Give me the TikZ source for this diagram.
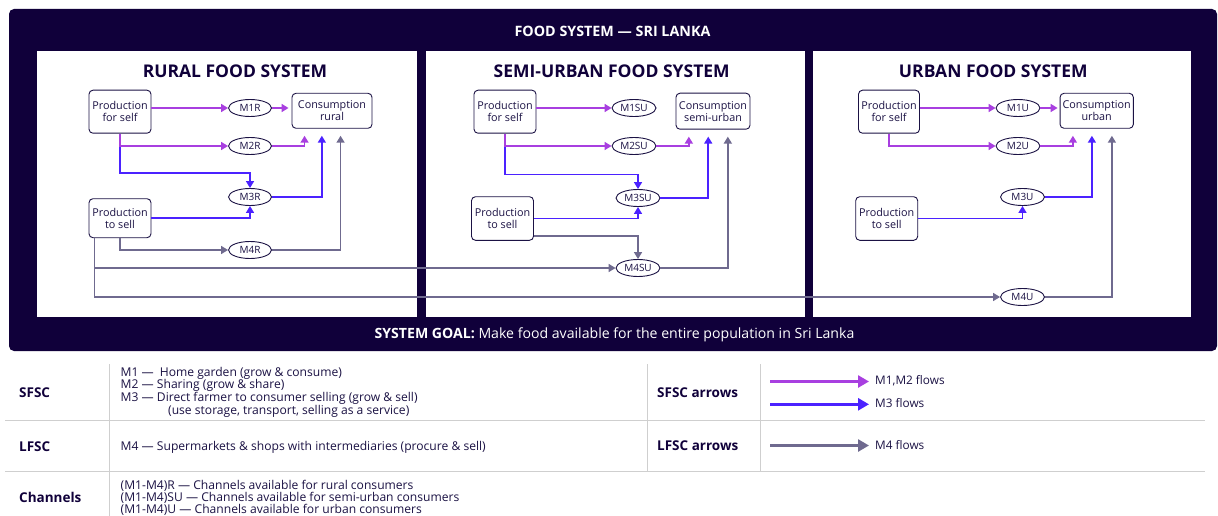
\documentclass[tikz,border=0pt]{standalone}
\usepackage{fontspec}
\setmainfont{Open Sans}
\usetikzlibrary{arrows.meta,shapes.geometric,calc}
\definecolor{navy}{HTML}{10003A}
\definecolor{ink}{HTML}{1B1244}
\definecolor{purp}{HTML}{A83FE0}
\definecolor{blu}{HTML}{4B22FF}
\definecolor{gry}{HTML}{6F6A8F}
\definecolor{rulec}{HTML}{CFCFCF}
\begin{document}
\begin{tikzpicture}[x=1pt,y=-1pt,
  box/.style={draw=ink, line width=0.9pt, rounded corners=4pt, fill=white, text=ink, align=center, inner sep=0pt, font=\fontsize{10.8}{11.8}\selectfont},
  chan/.style={ellipse, draw=ink, line width=0.9pt, fill=white, text=ink, inner sep=0pt, minimum height=17pt, minimum width=44pt, font=\fontsize{10}{11}\selectfont},
  flow/.style={line width=1.6pt, -{Triangle[length=7pt,width=8pt]}},
  ptitle/.style={text=navy, font=\bfseries\fontsize{17.5}{19}\selectfont},
  lab/.style={anchor=west, text=navy, inner sep=0pt, font=\bfseries\fontsize{13.5}{15}\selectfont},
  desc/.style={anchor=base west, text=ink, inner sep=0pt, font=\fontsize{12.1}{12}\selectfont},
  keyarrow/.style={line width=2.6pt, -{Triangle[length=11pt,width=12pt]}},
  keytext/.style={anchor=west, text=ink, inner sep=0pt, font=\fontsize{11.8}{12}\selectfont},
  rulel/.style={draw=rulec, line width=0.9pt}
]
\useasboundingbox (0,0) rectangle (1218,516);
\fill[white] (0,0) rectangle (1218,516);
% frame
\fill[navy, rounded corners=5pt] (9,9) rectangle (1217,351);
\fill[white] (37,51) rectangle (417,317);
\fill[white] (426,51) rectangle (805,317);
\fill[white] (813,51) rectangle (1191,317);
\node[text=white, font=\bfseries\fontsize{14.3}{16}\selectfont] (hdr) at (612.5,31.5) {FOOD SYSTEM — SRI LANKA};
\node[text=white, font=\fontsize{14.1}{16}\selectfont] (goal) at (614.5,335) {\textbf{SYSTEM GOAL:} Make food available for the entire population in Sri Lanka};

% titles
\node[ptitle] (tR) at (235,71) {RURAL FOOD SYSTEM};
\node[ptitle] (tS) at (611.7,71) {SEMI-URBAN FOOD SYSTEM};
\node[ptitle] (tU) at (993.3,71) {URBAN FOOD SYSTEM};

% ---------- rural ----------
\node[box, minimum width=62pt, minimum height=43pt] (psR) at (120,111.7) {Production\\for self};
\node[box, minimum width=62pt, minimum height=39pt] (tsR) at (120,218.2) {Production\\to sell};
\node[box, minimum width=80pt, minimum height=35pt] (cR) at (332,110.8) {Consumption\\rural};
\node[chan, minimum width=43pt] (M1R) at (250,108) {M1R};
\node[chan, minimum width=43pt] (M2R) at (250,146) {M2R};
\node[chan, minimum width=43pt] (M3R) at (250,197) {M3R};
\node[chan, minimum width=43pt] (M4R) at (250,250) {M4R};

% ---------- semi-urban ----------
\node[box, minimum width=62pt, minimum height=43pt] (psS) at (505,111.7) {Production\\for self};
\node[box, minimum width=62pt, minimum height=43.6pt] (tsS) at (502.5,218.5) {Production\\to sell};
\node[box, minimum width=74pt, minimum height=36pt] (cS) at (713,111.2) {Consumption\\semi-urban};
\node[chan] (M1SU) at (634,108) {M1SU};
\node[chan] (M2SU) at (634,146) {M2SU};
\node[chan] (M3SU) at (638,198) {M3SU};
\node[chan] (M4SU) at (638,268) {M4SU};

% ---------- urban ----------
\node[box, minimum width=61pt, minimum height=43pt] (psU) at (889,111.7) {Production\\for self};
\node[box, minimum width=62pt, minimum height=43.6pt] (tsU) at (886.7,218.5) {Production\\to sell};
\node[box, minimum width=73.3pt, minimum height=35pt] (cU) at (1096.7,110.8) {Consumption\\urban};
\node[chan] (M1U) at (1018,108) {M1U};
\node[chan] (M2U) at (1018,146) {M2U};
\node[chan] (M3U) at (1022.5,197) {M3U};
\node[chan] (M4U) at (1022.5,297) {M4U};

% ---------- rural flows ----------
\draw[flow, blu] (psR.south) |- ([yshift=15pt]M3R.north) -- (M3R.north);
\draw[flow, purp] (psR.south) |- (M2R.west);
\draw[flow, purp] (psR.east |- M1R.west) -- (M1R.west);
\draw[flow, purp, shorten >=3pt] (M1R.east) -- (cR.west |- M1R.east);
\draw[flow, purp, shorten >=7pt] (M2R.east) -| ($(cR.south west)+(13,0)$);
\draw[flow, blu] (tsR.east) -| (M3R.south);
\draw[flow, blu, shorten >=7pt] (M3R.east) -| ($(cR.south west)+(30.3,0)$);
\draw[flow, gry] (tsR.south) |- (M4R.west);
\draw[flow, gry, shorten >=7pt] (M4R.east) -| ($(cR.south west)+(49,0)$);
\draw[flow, gry] ([xshift=-25.7pt]tsR.south) |- (M4SU.west);
\draw[flow, gry] ([xshift=-25.7pt]tsR.south) |- (M4U.west);

% ---------- semi-urban flows ----------
\draw[flow, blu] (psS.south) |- ([yshift=14.5pt]M3SU.north) -- (M3SU.north);
\draw[flow, purp] (psS.south) |- (M2SU.west);
\draw[flow, purp] (psS.east |- M1SU.west) -- (M1SU.west);
\draw[flow, purp, shorten >=7pt] (M2SU.east) -| ($(cS.south west)+(13.3,0)$);
\draw[flow, blu] (tsS.east) -| (M3SU.south);
\draw[flow, blu, shorten >=7pt] (M3SU.east) -| ($(cS.south west)+(32.7,0)$);
\draw[flow, gry] ([yshift=-17.5pt]tsS.east) -| (M4SU.north);
\draw[flow, gry, shorten >=7pt] (M4SU.east) -| ($(cS.south west)+(52.3,0)$);

% ---------- urban flows ----------
\draw[flow, purp] (psU.east |- M1U.west) -- (M1U.west);
\draw[flow, purp, shorten >=2pt] (M1U.east) -- (cU.west |- M1U.east);
\draw[flow, purp] (psU.south) |- (M2U.west);
\draw[flow, purp, shorten >=7pt] (M2U.east) -| ($(cU.south west)+(13.3,0)$);
\draw[flow, blu] (tsU.east) -| (M3U.south);
\draw[flow, blu, shorten >=7pt] (M3U.east) -| ($(cU.south west)+(32.3,0)$);
\draw[flow, gry, shorten >=7pt] (M4U.east) -| ($(cU.south west)+(52.3,0)$);

% ---------- legend ----------
\draw[rulel] (5,420) -- (1205,420);
\draw[rulel] (5,471) -- (1205,471);
\draw[rulel] (109,364) -- (109,516);
\draw[rulel] (647,364) -- (647,471);
\draw[rulel] (760,364) -- (760,471);

\node[lab] (kS) at (19,393) {SFSC};
\node[lab] (kL) at (19,447) {LFSC};
\node[lab] (kC) at (19,497) {Channels};
\node[lab] (kSA) at (657,393) {SFSC arrows};
\node[lab] (kLA) at (657,446) {LFSC arrows};

\node[desc] (d1) at (120.5,376) {M1 —\hspace{0.5em}Home garden (grow \& consume)};
\node[desc] (d2) at (120.5,388.7) {M2 — Sharing (grow \& share)};
\node[desc] (d3) at (120.5,401.3) {M3 — Direct farmer to consumer selling (grow \& sell)};
\node[desc] (d4) at (120.5,414) {\hspace*{47.5pt}(use storage, transport, selling as a service)};
\node[desc] (d5) at (120.5,450) {M4 — Supermarkets \& shops with intermediaries (procure \& sell)};
\node[desc] (d6) at (120.5,489) {(M1-M4)R — Channels available for rural consumers};
\node[desc] (d7) at (120.5,501) {(M1-M4)SU — Channels available for semi-urban consumers};
\node[desc] (d8) at (120.5,513) {(M1-M4)U — Channels available for urban consumers};

\coordinate (k1a) at (770,381.5);
\coordinate (k1b) at (869,381.5);
\coordinate (k2a) at (770,404.3);
\coordinate (k2b) at (869,404.3);
\coordinate (k3a) at (770,445.5);
\coordinate (k3b) at (869,445.5);
\draw[keyarrow, purp] (k1a) -- (k1b);
\draw[keyarrow, blu] (k2a) -- (k2b);
\draw[keyarrow, gry] (k3a) -- (k3b);
\node[keytext] (f1) at (875,381) {M1,M2 flows};
\node[keytext] (f2) at (875,403.5) {M3 flows};
\node[keytext] (f3) at (875,445.5) {M4 flows};
\end{tikzpicture}
\end{document}
